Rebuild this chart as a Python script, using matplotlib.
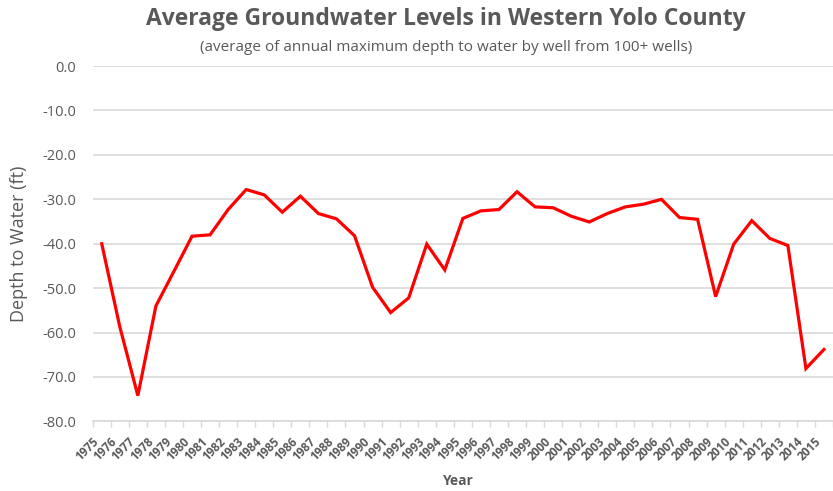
import matplotlib
matplotlib.use('Agg')
import matplotlib.pyplot as plt
import matplotlib.transforms as mtransforms

years = list(range(1975, 2016))
depth = [-40.0, -58.7, -74.2, -54.0, -46.2, -38.3, -38.0, -32.3, -27.8, -29.0,
         -32.9, -29.3, -33.2, -34.4, -38.2, -49.8, -55.5, -52.2, -40.1, -45.9,
         -34.3, -32.6, -32.3, -28.3, -31.7, -31.9, -33.8, -35.1, -33.2, -31.7,
         -31.1, -30.0, -34.1, -34.5, -51.9, -40.1, -34.8, -38.8, -40.4, -68.1,
         -63.8]
y_ticks = [0, -10, -20, -30, -40, -50, -60, -70, -80]

grey = '#595959'
grid = '#d9d9d9'
plt.rcParams['font.family'] = ['Open Sans', 'DejaVu Sans']

fig = plt.figure(figsize=(8.33, 4.91), dpi=100, facecolor='white')
ax = fig.add_axes([0.1113, 0.1418, 0.8887, 0.7236])

x = list(range(len(years)))
ax.plot(x, depth, color='#ff0000', linewidth=2.3, solid_joinstyle='miter', zorder=3)

ax.set_ylim(-80, 0)
ax.set_yticks(y_ticks)
ax.set_yticklabels([f'{v:.1f}' for v in y_ticks], fontsize=10.5, color=grey)
ax.yaxis.grid(True, color=grid, linewidth=1.2)
ax.tick_params(axis='y', length=0, pad=12)

ax.set_xlim(-0.5, 40.18)
ax.set_xticks(x)
ax.set_xticklabels([str(y) for y in years], rotation=45, fontsize=8.5,
                   fontweight='bold', color=grey, ha='right', va='top')
shift = mtransforms.ScaledTranslation(4 / 100, 0, fig.dpi_scale_trans)
for lbl in ax.get_xticklabels():
    lbl.set_transform(lbl.get_transform() + shift)
ax.set_xticks([i + 0.5 for i in range(-1, len(years))], minor=True)
ax.tick_params(axis='x', which='major', length=0, pad=10)
ax.tick_params(axis='x', which='minor', length=4, color=grid, width=1)

for s in ['top', 'right', 'left']:
    ax.spines[s].set_visible(False)
ax.spines['bottom'].set_color(grid)
ax.spines['bottom'].set_linewidth(1.2)
ax.set_axisbelow(True)

ax.set_ylabel('Depth to Water (ft)', fontsize=13, color=grey, labelpad=10)
fig.text(0.549, 0.021, 'Year', fontsize=10, fontweight='bold', color=grey, ha='center', va='center')

fig.text(0.535, 0.961, 'Average Groundwater Levels in Western Yolo County', fontsize=16.5,
         fontweight='bold', color=grey, ha='center', va='center')
fig.text(0.535, 0.904, '(average of annual maximum depth to water by well from 100+ wells)',
         fontsize=11, color=grey, ha='center', va='center')

fig.savefig('out.png', dpi=100, facecolor='white')
